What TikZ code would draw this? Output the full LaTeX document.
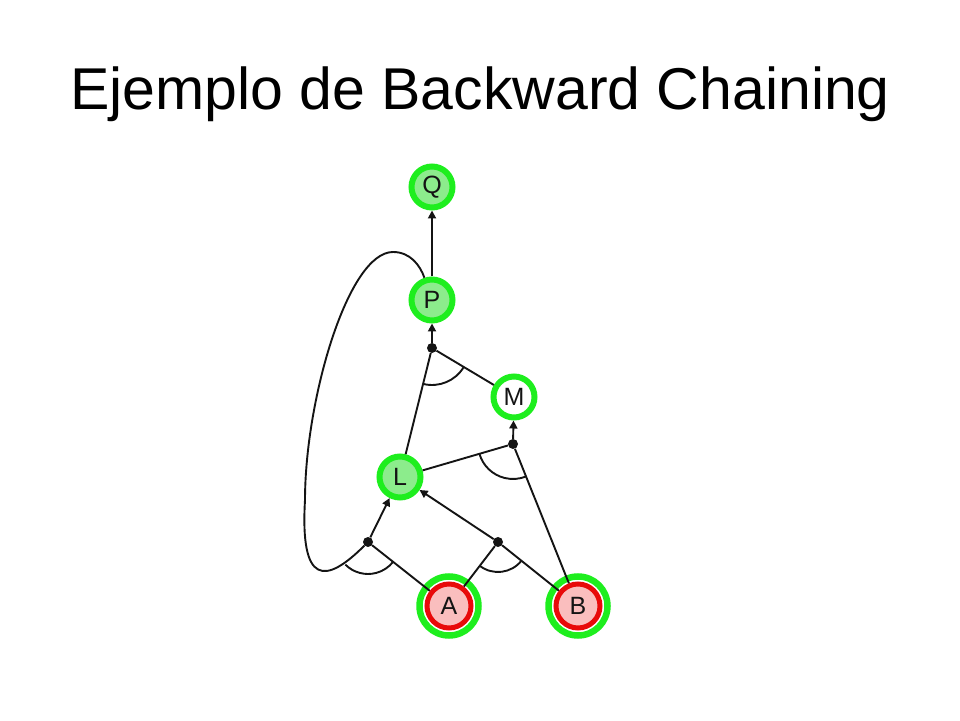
\documentclass[tikz,border=0pt]{standalone}
\usepackage{fontspec}
\setmainfont{Liberation Sans}
\usetikzlibrary{arrows.meta,calc}
\definecolor{ringgreen}{RGB}{30,238,30}
\definecolor{fillgreen}{RGB}{140,236,140}
\definecolor{ringred}{RGB}{232,10,10}
\definecolor{fillpink}{RGB}{250,190,190}
\definecolor{edgecol}{RGB}{20,20,20}
\tikzset{
  prop/.style={circle, draw=ringgreen, line width=6pt, fill=fillgreen, minimum size=41pt, inner sep=0pt,
    font=\fontsize{25}{27}\selectfont, text=edgecol},
  propw/.style={prop, fill=white},
  fact/.style={circle, draw=ringred, line width=5pt, fill=fillpink, minimum size=44pt, inner sep=0pt,
    font=\fontsize{25}{27}\selectfont, text=edgecol},
  outerring/.style={draw=ringgreen, line width=6.5pt},
  junc/.style={circle, fill=edgecol, minimum size=10pt, inner sep=0pt},
  edge/.style={draw=edgecol, line width=1.9pt},
  arr/.style={edge, -{Triangle[length=8pt,width=8pt]}},
  titletext/.style={font=\fontsize{59}{66}\selectfont, anchor=base, inner sep=0pt}
}
\begin{document}
\begin{tikzpicture}[x=1pt,y=1pt]
\useasboundingbox (0,0) rectangle (960,720);
\node[titletext] (title) at (480,610) {Ejemplo de Backward Chaining};
% green outer rings of facts
\draw[outerring] (449,114) circle (29.5pt);
\draw[outerring] (578,114) circle (29.5pt);
% nodes
\node[prop] (Q) at (432,533) {Q};
\node[prop] (P) at (432,420) {P};
\node[propw] (M) at (514,323) {M};
\node[prop] (L) at (400,243) {L};
\node[fact] (A) at (449,114) {A};
\node[fact] (B) at (578,114) {B};
% junctions
\node[junc] (jP) at (432,372) {};
\node[junc] (jM) at (513,276) {};
\node[junc] (jL1) at (368,178) {};
\node[junc] (jL2) at (498,178) {};
% arrows
\draw[arr] (P) -- (Q);
\draw[arr] (jP) -- (P);
\draw[arr] (jM) -- (M);
\draw[arr] (jL1) -- (L);
\draw[arr] (jL2) -- (L);
% premises
\draw[edge] (L) -- (jP);
\draw[edge] (M) -- (jP);
\draw[edge] (L) -- (jM);
\draw[edge] (B) -- (jM);
\draw[edge] (A) -- (jL1);
\draw[edge] (A) -- (jL2);
\draw[edge] (B) -- (jL2);
\draw[edge] (jL1) .. controls (325,135) and (300,135) .. (305,220)
  .. controls (305,320) and (348,468) .. (393,468)
  .. controls (410,468) and (420,455) .. (P);
% conjunction arcs
\draw[edge] ($(jP)+(256:37pt)$) arc[start angle=256, end angle=329.1, radius=37pt];
\draw[edge] ($(jM)+(196.3:35pt)$) arc[start angle=196.3, end angle=291.9, radius=35pt];
\draw[edge] ($(jL1)+(225:32pt)$) arc[start angle=225, end angle=321.7, radius=32pt];
\draw[edge] ($(jL2)+(232.6:30pt)$) arc[start angle=232.6, end angle=321.3, radius=30pt];
\end{tikzpicture}
\end{document}
